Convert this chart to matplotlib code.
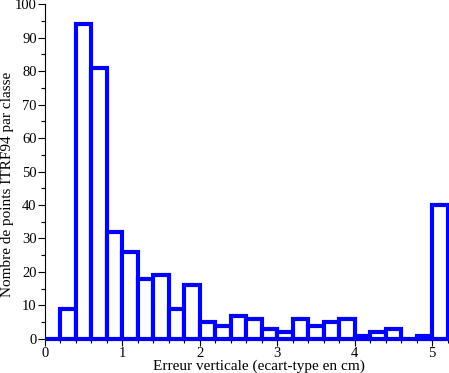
import matplotlib
matplotlib.use("Agg")
import matplotlib.pyplot as plt
import numpy as np
from matplotlib.ticker import MultipleLocator

plt.rcParams['font.family'] = ['Liberation Serif', 'DejaVu Serif']

# bin left edges (width 0.2) and counts
bin_edges = np.arange(0, 5.2, 0.2)
counts = [0, 9, 94, 81, 32, 26, 18, 19, 9, 16, 5, 4, 7,
          6, 3, 2, 6, 4, 5, 6, 1, 2, 3, 0, 1, 40]
bin_width = 0.2

fig = plt.figure(figsize=(4.49, 3.73), dpi=100)
ax = fig.add_axes([0.1002, 0.0912, 0.8965, 0.898])

ax.bar(bin_edges, counts, width=bin_width, align='edge',
       facecolor='white', edgecolor='#0000ff', linewidth=3, clip_on=False, zorder=3)

ax.set_xlim(0, 5.2)
ax.set_ylim(0, 100)
ax.xaxis.set_major_locator(MultipleLocator(1))
ax.xaxis.set_minor_locator(MultipleLocator(0.2))
ax.yaxis.set_major_locator(MultipleLocator(10))
ax.yaxis.set_minor_locator(MultipleLocator(5))
ax.tick_params(which='major', length=5, width=0.8, labelsize=10.5, pad=1)
ax.tick_params(which='minor', length=3, width=0.8)

for s in ['top', 'right']:
    ax.spines[s].set_visible(False)

ax.set_xlabel('Erreur verticale (ecart-type en cm)', fontsize=11, va='center')
ax.xaxis.set_label_coords(0.532, -0.08)
ax.set_ylabel('Nombre de points ITRF94 par classe', fontsize=11, va='center')
ax.yaxis.set_label_coords(-0.092, 0.463)

fig.savefig('out.png', dpi=100)
